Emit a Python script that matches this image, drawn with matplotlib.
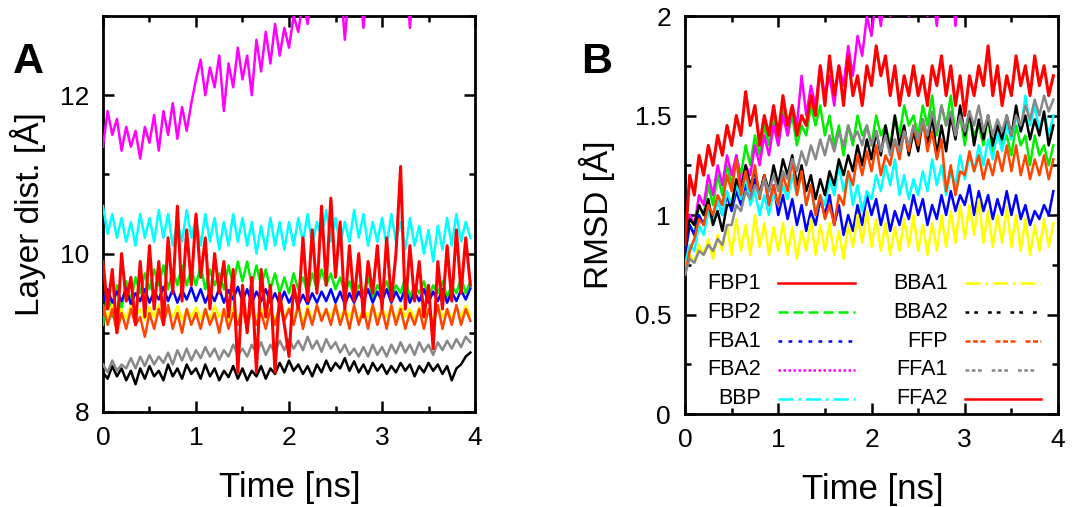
import numpy as np
import matplotlib
matplotlib.use("Agg")
import matplotlib.pyplot as plt
from matplotlib.ticker import MultipleLocator

plt.rcParams['font.family'] = ['Liberation Sans', 'DejaVu Sans']

# time axis (ns), one sample every 0.05 ns
time_ns = np.linspace(0, 3.95, 80)

names = ['FBP1', 'FBP2', 'FBA1', 'FBA2', 'BBP', 'BBA1', 'BBA2', 'FFP', 'FFA1', 'FFA2']
colors = ['#ff0000', '#00ee00', '#0000ff', '#ff00ff', '#00ffff',
          '#ffff00', '#000000', '#ff4500', '#888888', '#ff0000']
styles = ['-', (0, (4, 2)), (0, (1.5, 2.5)), (0, (1, 1)), (0, (6, 2, 1, 2)),
          (0, (6, 2, 1, 2)), (0, (1.5, 2, 1.5, 4)), (0, (2, 1, 2, 1, 2, 4)),
          (0, (1.5, 1, 1.5, 1, 1.5, 4)), '-']

# ---- panel A: layer distance [A] ----
layer = {
    'FBP2': [9.1, 9.5, 9.2, 9.6, 9.3, 9.65, 9.4, 9.7, 9.5, 9.75,
             9.55, 9.8, 9.6, 9.85, 9.55, 9.8, 9.6, 9.85, 9.6, 9.8,
             9.6, 9.85, 9.55, 9.8, 9.6, 9.75, 9.55, 9.85, 9.6, 9.9,
             9.65, 9.9, 9.6, 9.85, 9.6, 9.8, 9.55, 9.75, 9.5, 9.7,
             9.5, 9.75, 9.55, 9.7, 9.5, 9.75, 9.55, 9.8, 9.6, 9.75,
             9.55, 9.7, 9.5, 9.65, 9.45, 9.6, 9.5, 9.7, 9.45, 9.6,
             9.5, 9.65, 9.45, 9.6, 9.5, 9.7, 9.45, 9.6, 9.5, 9.65,
             9.45, 9.6, 9.5, 9.65, 9.45, 9.6, 9.5, 9.7, 9.5, 9.65],
    'FBA1': [9.4, 9.55, 9.38, 9.52, 9.4, 9.56, 9.36, 9.5, 9.4, 9.55,
             9.38, 9.52, 9.42, 9.58, 9.4, 9.55, 9.38, 9.54, 9.42, 9.57,
             9.4, 9.55, 9.38, 9.52, 9.4, 9.56, 9.38, 9.54, 9.42, 9.58,
             9.4, 9.55, 9.37, 9.52, 9.4, 9.55, 9.38, 9.5, 9.36, 9.52,
             9.38, 9.5, 9.35, 9.48, 9.36, 9.5, 9.38, 9.52, 9.4, 9.55,
             9.38, 9.52, 9.36, 9.5, 9.38, 9.52, 9.4, 9.55, 9.38, 9.52,
             9.4, 9.55, 9.38, 9.52, 9.4, 9.56, 9.38, 9.52, 9.4, 9.55,
             9.38, 9.52, 9.4, 9.55, 9.38, 9.52, 9.4, 9.54, 9.42, 9.56],
    'FBA2': [11.35, 11.8, 11.5, 11.7, 11.3, 11.6, 11.35, 11.55, 11.2, 11.6,
             11.4, 11.75, 11.3, 11.8, 11.5, 11.9, 11.45, 11.85, 11.55, 11.9,
             12.2, 12.45, 12.0, 12.35, 12.1, 12.5, 11.8, 12.4, 12.1, 12.6,
             12.2, 12.5, 12.0, 12.7, 12.3, 12.8, 12.4, 12.9, 12.5, 12.85,
             12.6, 13.0, 12.8, 13.2, 12.9, 13.3, 13.1, 13.4, 13.2, 13.5,
             13.3, 13.5, 12.7, 13.4, 13.2, 13.6, 12.85, 13.5, 13.3, 13.6,
             13.4, 13.7, 13.3, 13.6, 13.5, 13.8, 12.85, 13.6, 13.5, 13.7,
             13.5, 13.8, 13.4, 13.7, 13.6, 13.9, 13.5, 13.8, 13.6, 13.9],
    'BBP': [10.6, 10.25, 10.5, 10.2, 10.45, 10.15, 10.4, 10.1, 10.5, 10.2,
            10.45, 10.15, 10.55, 10.2, 10.5, 10.1, 10.4, 10.15, 10.55, 10.2,
            10.45, 10.1, 10.5, 10.15, 10.45, 10.05, 10.4, 10.1, 10.5, 10.15,
            10.45, 10.1, 10.4, 10.0, 10.35, 10.05, 10.45, 10.1, 10.4, 10.05,
            10.4, 10.1, 10.45, 10.15, 10.5, 10.1, 10.4, 10.2, 10.55, 10.15,
            10.45, 10.1, 10.4, 10.15, 10.55, 10.2, 10.5, 10.1, 10.4, 10.15,
            10.45, 10.1, 10.5, 10.15, 10.4, 10.05, 10.45, 10.1, 10.35, 10.0,
            10.3, 9.9, 10.35, 10.05, 10.45, 10.1, 10.5, 10.15, 10.4, 10.2],
    'BBA1': [9.3, 9.2, 9.35, 9.15, 9.3, 9.18, 9.34, 9.2, 9.3, 9.16,
             9.32, 9.2, 9.35, 9.18, 9.3, 9.2, 9.34, 9.16, 9.3, 9.2,
             9.32, 9.18, 9.3, 9.16, 9.34, 9.2, 9.3, 9.15, 9.32, 9.18,
             9.3, 9.16, 9.34, 9.2, 9.3, 9.18, 9.32, 9.15, 9.3, 9.2,
             9.32, 9.16, 9.35, 9.12, 9.34, 9.15, 9.32, 9.18, 9.3, 9.2,
             9.34, 9.18, 9.3, 9.2, 9.32, 9.16, 9.3, 9.2, 9.34, 9.18,
             9.3, 9.2, 9.32, 9.16, 9.34, 9.2, 9.3, 9.18, 9.32, 9.2,
             9.3, 9.16, 9.34, 9.2, 9.3, 9.18, 9.32, 9.2, 9.34, 9.22],
    'BBA2': [8.5, 8.42, 8.58, 8.45, 8.55, 8.4, 8.52, 8.35, 8.55, 8.42,
             8.58, 8.45, 8.52, 8.4, 8.6, 8.45, 8.55, 8.42, 8.6, 8.48,
             8.55, 8.42, 8.6, 8.45, 8.55, 8.4, 8.52, 8.44, 8.58, 8.42,
             8.55, 8.4, 8.52, 8.45, 8.58, 8.42, 8.55, 8.48, 8.62, 8.5,
             8.65, 8.52, 8.6, 8.48, 8.58, 8.45, 8.6, 8.5, 8.65, 8.52,
             8.62, 8.55, 8.68, 8.52, 8.64, 8.5, 8.6, 8.48, 8.62, 8.52,
             8.6, 8.48, 8.58, 8.5, 8.62, 8.52, 8.6, 8.45, 8.58, 8.5,
             8.62, 8.52, 8.6, 8.48, 8.58, 8.4, 8.55, 8.6, 8.7, 8.75],
    'FFP': [9.35, 9.1, 9.3, 9.0, 9.25, 9.05, 9.3, 9.1, 9.2, 8.95,
            9.25, 9.05, 9.3, 9.1, 9.35, 9.05, 9.25, 9.0, 9.3, 9.1,
            9.25, 9.05, 9.3, 9.1, 9.25, 9.0, 9.3, 9.05, 9.25, 9.1,
            9.3, 9.05, 9.35, 9.1, 9.25, 9.05, 9.3, 9.1, 9.35, 9.15,
            9.3, 9.1, 9.35, 9.05, 9.3, 9.1, 9.35, 9.15, 9.3, 9.1,
            9.35, 9.1, 9.3, 9.05, 9.35, 9.1, 9.3, 9.05, 9.35, 9.1,
            9.3, 9.05, 9.35, 9.1, 9.3, 9.05, 9.25, 9.1, 9.3, 9.05,
            9.3, 9.1, 9.35, 9.05, 9.3, 9.1, 9.35, 9.1, 9.3, 9.15],
    'FFA1': [8.6, 8.5, 8.65, 8.52, 8.6, 8.55, 8.68, 8.55, 8.7, 8.58,
             8.72, 8.6, 8.7, 8.62, 8.75, 8.6, 8.78, 8.65, 8.8, 8.65,
             8.78, 8.68, 8.82, 8.7, 8.8, 8.66, 8.78, 8.7, 8.85, 8.72,
             8.8, 8.7, 8.85, 8.74, 8.88, 8.72, 8.85, 8.75, 8.9, 8.78,
             8.92, 8.8, 8.9, 8.78, 8.95, 8.8, 8.9, 8.76, 8.92, 8.8,
             8.88, 8.75, 8.85, 8.72, 8.8, 8.7, 8.82, 8.7, 8.85, 8.72,
             8.82, 8.7, 8.85, 8.74, 8.88, 8.75, 8.85, 8.72, 8.88, 8.76,
             8.85, 8.72, 8.88, 8.78, 8.9, 8.8, 8.92, 8.82, 8.95, 8.88],
    'FFA2': [9.9, 9.3, 9.8, 9.0, 10.0, 9.4, 9.7, 9.1, 9.9, 9.2,
             10.1, 9.3, 9.9, 9.1, 10.2, 9.5, 10.6, 9.4, 10.3, 9.6,
             10.5, 9.7, 10.2, 9.3, 10.0, 9.5, 9.9, 9.2, 9.8, 8.5,
             9.6, 9.0, 9.7, 8.5, 9.8, 9.2, 9.6, 8.5, 9.5, 9.1,
             8.7, 9.6, 9.3, 10.2, 9.4, 10.3, 9.5, 10.6, 9.6, 10.7,
             9.7, 10.4, 9.3, 10.1, 9.4, 10.0, 9.2, 9.9, 9.5, 10.1,
             9.3, 10.2, 9.4, 10.0, 11.1, 9.3, 10.1, 9.4, 9.9, 9.2,
             9.6, 8.8, 9.9, 9.3, 10.1, 9.4, 10.3, 9.5, 10.2, 9.6],
}

# ---- panel B: RMSD [A] ----
rmsd = {
    'FBP2': [0.8, 0.95, 0.9, 1.05, 1.0, 1.15, 1.05, 1.2, 1.1, 1.25,
             1.15, 1.3, 1.2, 1.35, 1.25, 1.4, 1.3, 1.45, 1.35, 1.5,
             1.35, 1.55, 1.4, 1.5, 1.35, 1.45, 1.4, 1.55, 1.45, 1.55,
             1.4, 1.5, 1.35, 1.45, 1.3, 1.45, 1.35, 1.5, 1.4, 1.45,
             1.35, 1.5, 1.4, 1.45, 1.35, 1.5, 1.4, 1.55, 1.45, 1.5,
             1.4, 1.55, 1.45, 1.6, 1.4, 1.55, 1.45, 1.6, 1.4, 1.5,
             1.35, 1.5, 1.4, 1.45, 1.35, 1.5, 1.3, 1.45, 1.35, 1.4,
             1.3, 1.45, 1.35, 1.4, 1.25, 1.4, 1.3, 1.35, 1.25, 1.35],
    'FBA1': [0.8, 0.95, 0.9, 1.0, 0.95, 1.05, 0.98, 1.08, 1.0, 1.1,
             1.02, 1.12, 1.05, 1.15, 1.08, 1.18, 1.1, 1.2, 1.05, 1.15,
             1.0, 1.1, 0.98, 1.08, 0.95, 1.05, 0.92, 1.02, 0.95, 1.08,
             1.0, 1.1, 0.95, 1.05, 0.9, 1.0, 0.92, 1.05, 0.95, 1.1,
             1.0, 1.08, 0.95, 1.05, 0.92, 1.02, 0.95, 1.05, 0.98, 1.1,
             1.0, 1.08, 0.95, 1.05, 0.98, 1.1, 1.0, 1.12, 1.02, 1.1,
             1.05, 1.15, 1.0, 1.12, 1.02, 1.1, 0.98, 1.08, 1.0, 1.12,
             1.0, 1.1, 0.98, 1.05, 0.95, 1.02, 0.98, 1.05, 1.0, 1.12],
    'FBA2': [0.85, 1.0, 0.95, 1.1, 1.05, 1.2, 1.1, 1.25, 1.15, 1.3,
             1.2, 1.3, 1.15, 1.25, 1.2, 1.35, 1.25, 1.4, 1.3, 1.45,
             1.35, 1.5, 1.4, 1.55, 1.45, 1.7, 1.5, 1.65, 1.55, 1.75,
             1.6, 1.7, 1.55, 1.75, 1.65, 1.85, 1.7, 1.9, 1.8, 2.0,
             1.9, 2.1, 1.95, 2.15, 2.0, 2.2, 2.05, 2.2, 2.0, 2.15,
             2.05, 2.2, 2.0, 2.15, 1.95, 2.2, 2.05, 2.25, 1.95, 2.2,
             2.05, 2.3, 2.2, 2.35, 2.25, 2.4, 2.3, 2.45, 2.35, 2.5,
             2.4, 2.5, 2.45, 2.55, 2.5, 2.6, 2.5, 2.6, 2.55, 2.65],
    'BBP': [0.75, 0.85, 0.82, 0.95, 0.9, 1.02, 0.95, 1.08, 1.0, 1.12,
            1.05, 1.15, 1.08, 1.2, 1.05, 1.12, 1.0, 1.1, 1.0, 1.12,
            1.05, 1.15, 1.08, 1.2, 1.1, 1.22, 1.05, 1.15, 1.0, 1.1,
            1.05, 1.18, 1.1, 1.25, 1.12, 1.22, 1.05, 1.15, 1.02, 1.12,
            1.08, 1.2, 1.12, 1.25, 1.15, 1.28, 1.1, 1.2, 1.08, 1.18,
            1.1, 1.22, 1.12, 1.28, 1.15, 1.25, 1.1, 1.22, 1.15, 1.3,
            1.18, 1.3, 1.22, 1.35, 1.25, 1.38, 1.28, 1.42, 1.32, 1.45,
            1.38, 1.5, 1.42, 1.6, 1.45, 1.55, 1.42, 1.52, 1.4, 1.5],
    'BBA1': [0.72, 0.8, 0.76, 0.85, 0.8, 0.88, 0.78, 0.9, 0.82, 0.95,
             0.8, 0.98, 0.82, 0.95, 0.8, 1.0, 0.84, 0.96, 0.8, 0.94,
             0.82, 0.96, 0.8, 0.94, 0.78, 0.92, 0.82, 0.98, 0.8, 0.95,
             0.82, 0.96, 0.8, 0.92, 0.78, 0.95, 0.84, 1.0, 0.86, 1.02,
             0.84, 0.98, 0.82, 0.96, 0.8, 0.94, 0.82, 0.98, 0.84, 1.0,
             0.82, 0.95, 0.8, 0.96, 0.82, 1.0, 0.84, 1.02, 0.86, 1.05,
             0.88, 1.05, 0.9, 1.08, 0.86, 1.02, 0.84, 1.0, 0.86, 1.04,
             0.84, 1.0, 0.82, 0.98, 0.8, 0.95, 0.82, 0.98, 0.84, 0.96],
    'BBA2': [0.85, 0.98, 0.95, 1.05, 1.0, 1.08, 0.95, 1.02, 0.92, 1.05,
             1.05, 1.18, 1.12, 1.25, 1.15, 1.22, 1.1, 1.2, 1.12, 1.25,
             1.15, 1.28, 1.2, 1.3, 1.15, 1.25, 1.12, 1.2, 1.08, 1.18,
             1.1, 1.22, 1.15, 1.28, 1.2, 1.3, 1.22, 1.35, 1.25, 1.38,
             1.28, 1.42, 1.3, 1.45, 1.32, 1.5, 1.35, 1.45, 1.3, 1.42,
             1.32, 1.48, 1.35, 1.5, 1.3, 1.45, 1.32, 1.5, 1.38, 1.55,
             1.4, 1.52, 1.35, 1.48, 1.38, 1.5, 1.35, 1.45, 1.38, 1.5,
             1.4, 1.55, 1.42, 1.5, 1.38, 1.48, 1.4, 1.52, 1.35, 1.45],
    'FFP': [0.7, 0.82, 0.88, 0.98, 0.95, 1.05, 1.0, 1.1, 1.05, 1.2,
            1.12, 1.28, 1.1, 1.22, 1.12, 1.25, 1.08, 1.2, 1.05, 1.15,
            1.05, 1.2, 1.12, 1.28, 1.1, 1.22, 1.05, 1.15, 1.0, 1.1,
            0.98, 1.05, 0.95, 1.1, 1.05, 1.22, 1.15, 1.3, 1.2, 1.32,
            1.22, 1.35, 1.2, 1.3, 1.25, 1.38, 1.28, 1.42, 1.32, 1.45,
            1.35, 1.48, 1.32, 1.42, 1.28, 1.38, 1.12, 1.25, 1.1, 1.22,
            1.2, 1.32, 1.22, 1.3, 1.18, 1.28, 1.2, 1.32, 1.22, 1.35,
            1.22, 1.35, 1.2, 1.3, 1.18, 1.28, 1.2, 1.3, 1.18, 1.28],
    'FFA1': [0.7, 0.78, 0.76, 0.82, 0.8, 0.85, 0.82, 0.88, 0.85, 0.95,
             0.95, 1.05, 1.02, 1.12, 1.08, 1.15, 1.1, 1.18, 1.12, 1.2,
             1.12, 1.22, 1.18, 1.28, 1.22, 1.32, 1.25, 1.35, 1.28, 1.38,
             1.3, 1.4, 1.32, 1.42, 1.35, 1.45, 1.38, 1.42, 1.35, 1.45,
             1.35, 1.42, 1.32, 1.4, 1.3, 1.38, 1.32, 1.42, 1.35, 1.45,
             1.38, 1.48, 1.4, 1.52, 1.42, 1.55, 1.45, 1.52, 1.4, 1.5,
             1.42, 1.52, 1.45, 1.55, 1.42, 1.5, 1.4, 1.48, 1.42, 1.5,
             1.4, 1.5, 1.45, 1.55, 1.48, 1.58, 1.5, 1.6, 1.52, 1.58],
    'FFA2': [0.85, 1.2, 1.1, 1.3, 1.2, 1.35, 1.25, 1.4, 1.3, 1.45,
             1.35, 1.5, 1.4, 1.62, 1.45, 1.55, 1.35, 1.5, 1.4, 1.55,
             1.4, 1.6, 1.45, 1.55, 1.4, 1.5, 1.45, 1.6, 1.5, 1.75,
             1.55, 1.8, 1.6, 1.75, 1.55, 1.8, 1.6, 1.7, 1.55, 1.75,
             1.65, 1.85, 1.7, 1.8, 1.6, 1.75, 1.55, 1.7, 1.6, 1.75,
             1.6, 1.7, 1.55, 1.75, 1.65, 1.8, 1.6, 1.75, 1.55, 1.7,
             1.5, 1.7, 1.6, 1.75, 1.65, 1.85, 1.6, 1.75, 1.55, 1.7,
             1.6, 1.8, 1.65, 1.75, 1.6, 1.8, 1.65, 1.75, 1.6, 1.7],
}


def style_axes(ax, ylim, ymajor, yminor):
    ax.set_xlim(0, 4)
    ax.set_ylim(*ylim)
    ax.xaxis.set_major_locator(MultipleLocator(1))
    ax.xaxis.set_minor_locator(MultipleLocator(0.5))
    ax.yaxis.set_major_locator(MultipleLocator(ymajor))
    ax.yaxis.set_minor_locator(MultipleLocator(yminor))
    ax.tick_params(which='both', direction='in', top=True, right=True,
                   labelsize=19, width=1.8, pad=10)
    ax.tick_params(which='major', length=8)
    ax.tick_params(which='minor', length=4)
    for s in ax.spines.values():
        s.set_linewidth(2)


def draw(ax, data):
    # the traces are so dense in the original that they read as solid bands
    for i, name in enumerate(names):
        if name not in data:
            continue
        lw = 2.2 if styles[i] == '-' else 1.8
        ax.plot(time_ns, data[name], color=colors[i], linestyle='-',
                linewidth=lw, zorder=2 + i)


fig = plt.figure(figsize=(10.92, 5.07), dpi=100)
axA = fig.add_axes([0.0943, 0.1874, 0.3407, 0.781])
axB = fig.add_axes([0.6273, 0.1834, 0.3416, 0.785])

draw(axA, layer)
style_axes(axA, (8, 13), 2, 1)
axA.set_yticks([8, 10, 12])
axA.set_xlabel('Time [ns]', fontsize=25)
axA.set_ylabel('Layer dist. [Å]', fontsize=24)
axA.xaxis.set_label_coords(0.503, -0.19)
axA.xaxis.label.set_va('center')
axA.yaxis.set_label_coords(-0.202, 0.5)
axA.yaxis.label.set_va('center')

draw(axB, rmsd)
style_axes(axB, (0, 2), 0.5, 0.25)
axB.set_yticks([0, 0.5, 1, 1.5, 2])
axB.set_yticklabels(['0', '0.5', '1', '1.5', '2'])
axB.set_xlabel('Time [ns]', fontsize=25)
axB.set_ylabel('RMSD [Å]', fontsize=24)
axB.xaxis.set_label_coords(0.503, -0.19)
axB.xaxis.label.set_va('center')
axB.yaxis.set_label_coords(-0.236, 0.5)
axB.yaxis.label.set_va('center')

# legend in gnuplot layout: label right-aligned, sample line after it
rows = [0.329, 0.256, 0.183, 0.111, 0.038]
cols = [(0.204, 0.249, 0.456), (0.705, 0.751, 0.954)]
for i, name in enumerate(names):
    xt, x0, x1 = cols[i // 5]
    y = rows[i % 5]
    axB.text(xt, y, name, transform=axB.transAxes, ha='right', va='center',
             fontsize=15.5, zorder=20)
    axB.plot([x0, x1], [y, y], transform=axB.transAxes, color=colors[i],
             linestyle=styles[i], linewidth=1.8, zorder=20)

fig.text(0.026, 0.878, 'A', fontsize=31, fontweight='bold', ha='center', va='center')
fig.text(0.546, 0.878, 'B', fontsize=31, fontweight='bold', ha='center', va='center')

fig.savefig('out.png', dpi=100)
